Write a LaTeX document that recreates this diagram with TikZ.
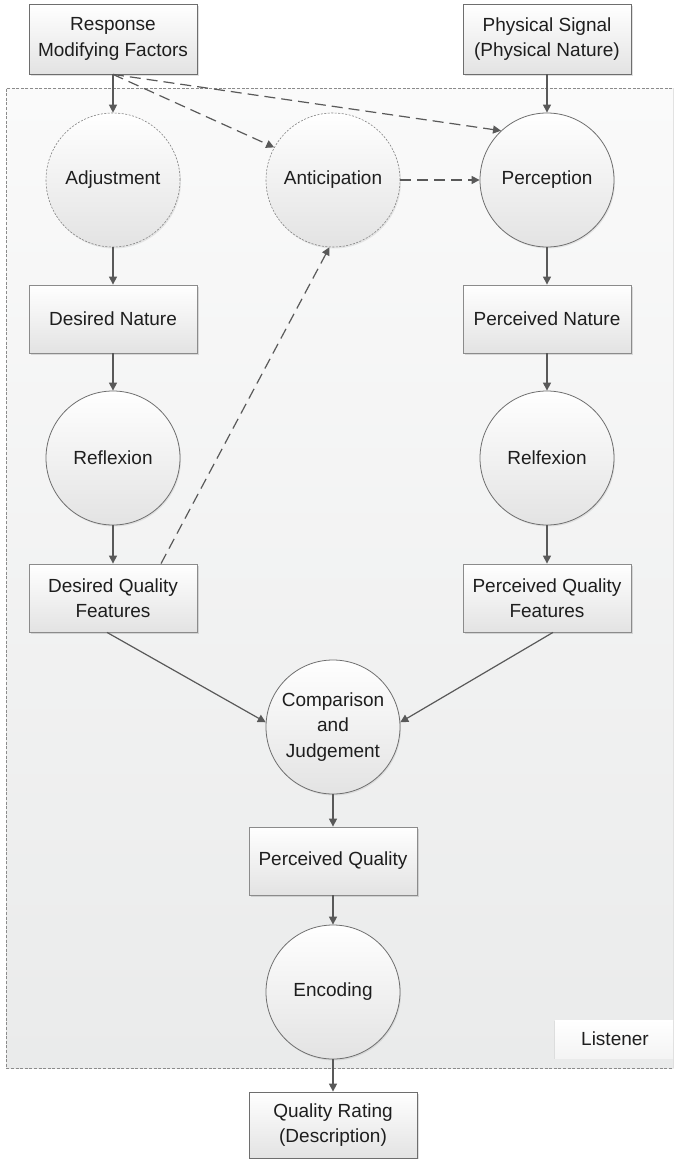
\documentclass[tikz,border=0pt]{standalone}
\usepackage{fontspec}
\setmainfont{Liberation Sans}
\usetikzlibrary{arrows.meta,shadows,calc}

\definecolor{linkgray}{HTML}{595959}
\definecolor{rimgray}{HTML}{6E6E6E}
\definecolor{inkgray}{HTML}{1E1E1E}
\definecolor{zonetop}{HTML}{FAFAFA}
\definecolor{zonebot}{HTML}{EAEBEB}
\definecolor{shadebot}{HTML}{E3E3E3}

\tikzset{
  every node/.style={font=\fontsize{19}{25.5}\selectfont, text=inkgray, align=center},
  stagebox/.style={rectangle, draw=rimgray!80, line width=0.8pt,
    top color=white, bottom color=shadebot,
    minimum width=168pt, minimum height=68pt, inner sep=0pt,
    drop shadow={shadow xshift=1.5pt, shadow yshift=-2pt, fill=black, opacity=0.12}},
  outerbox/.style={stagebox, draw=rimgray, minimum height=70pt},
  stagecircle/.style={circle, draw=rimgray, line width=0.8pt,
    top color=white, bottom color=shadebot,
    minimum size=134pt, inner sep=0pt,
    drop shadow={shadow xshift=1pt, shadow yshift=-1.5pt, fill=black, opacity=0.08}},
  softcircle/.style={stagecircle, draw=rimgray!85, dash pattern=on 2pt off 1.5pt, line width=0.6pt},
  flow/.style={draw=linkgray, line width=1.2pt, -{Triangle[length=8pt,width=8pt]}},
  hint/.style={flow, dash pattern=on 11pt off 6pt},
  zoneline/.style={draw=rimgray!80, line width=0.8pt, dash pattern=on 3pt off 1.6pt},
}

\begin{document}
\begin{tikzpicture}[x=1pt,y=-1pt]
\useasboundingbox (0,0) rectangle (673,1159);

% listener zone: shaded area with dashed rim, running past the right edge
\begin{scope}
  \clip (0,0) rectangle (673,1159);
  \fill[top color=zonetop, bottom color=zonebot] (6,88) rectangle (700,1068);
  \draw[zoneline] (700,88) -- (6,88) -- (6,1068) -- (700,1068);
  \node (listener) [rectangle, minimum width=120pt, minimum height=38pt, inner sep=0pt,
    top color=white, bottom color=zonetop!60!zonebot,
    drop shadow={shadow xshift=-1.5pt, shadow yshift=-1pt, fill=black, opacity=0.06}]
    at (615,1039) {Listener};
\end{scope}

% inputs
\node[outerbox] (resp) at (113,39) {Response\\Modifying Factors};
\node[outerbox] (phys) at (547,39) {Physical Signal\\(Physical Nature)};

% first row of processes
\node[softcircle]  (adj)   at (113,180) {Adjustment};
\node[softcircle]  (antic) at (333,180) {Anticipation};
\node[stagecircle] (perc)  at (547,180) {Perception};

% natures
\node[stagebox] (dnat) at (113,319) {Desired Nature};
\node[stagebox] (pnat) at (547,319) {Perceived Nature};

% reflexion
\node[stagecircle] (refl) at (113,458) {Reflexion};
\node[stagecircle] (relf) at (547,458) {Relfexion};

% quality features
\node[stagebox] (dqf) at (113,598) {Desired Quality\\Features};
\node[stagebox] (pqf) at (547,598) {Perceived Quality\\Features};

% judgement and output chain
\node[stagecircle] (cmp) at (333,727) {Comparison\\and\\Judgement};
\node[stagebox] (pq) at (333,861) {Perceived Quality};
\node[stagecircle] (enc) at (333,992) {Encoding};
\node[outerbox, minimum height=66pt] (qr) at (333,1125) {Quality Rating\\(Description)};

% solid flow
\draw[flow] (resp) -- (adj);
\draw[flow] (phys) -- (perc);
\draw[flow] (adj) -- (dnat);
\draw[flow] (dnat) -- (refl);
\draw[flow] (refl) -- (dqf);
\draw[flow] (perc) -- (pnat);
\draw[flow] (pnat) -- (relf);
\draw[flow] (relf) -- (pqf);
\draw[flow] ($(dqf.south)+(-6,0)$) -- (cmp.176);
\draw[flow] ($(pqf.south)+(6,0)$) -- (cmp.4);
\draw[flow] (cmp) -- (pq);
\draw[flow] (pq) -- (enc);
\draw[flow] (enc) -- (qr);

% dashed influences
\draw[hint] (resp.south) -- (antic.151);
\draw[hint] (resp.south) -- (perc.133);
\draw[hint] (antic) -- (perc);
\draw[hint] ($(dqf.north)+(48,0)$) -- (antic.-93);
\end{tikzpicture}
\end{document}
